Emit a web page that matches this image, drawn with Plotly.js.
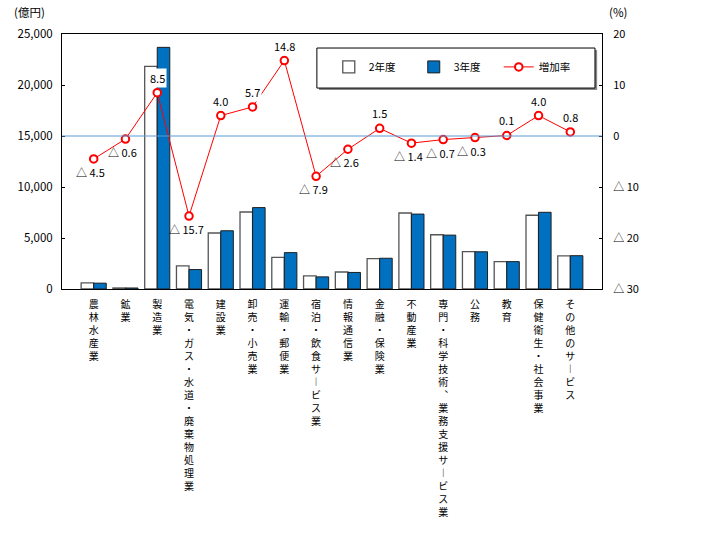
<!DOCTYPE html>
<html>
<head>
<meta charset="utf-8">
<script src="https://cdn.plot.ly/plotly-3.0.1.min.js"></script>
<style>body{margin:0;background:#fff}#chart{width:708px;height:535px}</style>
</head>
<body>
<div id="chart"></div>
<script>
var categories = ["農林水産業","鉱業","製造業","電気・ガス・水道・廃棄物処理業","建設業","卸売・小売業","運輸・郵便業","宿泊・飲食サービス業","情報通信業","金融・保険業","不動産業","専門・科学技術、業務支援サービス業","公務","教育","保健衛生・社会事業","その他のサービス"];
var fy2 = [600, 100, 21830, 2260, 5490, 7550, 3105, 1290, 1667, 2970, 7450, 5320, 3660, 2680, 7230, 3240];
var fy3 = [573, 99, 23690, 1905, 5710, 7980, 3565, 1188, 1624, 3015, 7345, 5283, 3649, 2683, 7519, 3266];
var rate = [-4.5, -0.6, 8.5, -15.7, 4.0, 5.7, 14.8, -7.9, -2.6, 1.5, -1.4, -0.7, -0.3, 0.1, 4.0, 0.8];
var y2TickVals = [-30, -20, -10, 0, 10, 20];
var y2TickText = ["△ 30", "△ 20", "△ 10", "0", "10", "20"];

var JP = '"Noto Sans CJK JP", sans-serif';

function vertical(s) {
  return s.split('').map(function (c) {
    if (c === 'ー') return '︱';
    if (c === '、') return '︑';
    return c;
  }).join('<br>');
}
function fmtRate(v) {
  return v < 0 ? '△ ' + Math.abs(v).toFixed(1) : v.toFixed(1);
}

var traces = [
  {type: 'bar', name: '2年度', x: categories, y: fy2, yaxis: 'y',
   marker: {color: '#ffffff', line: {color: '#555555', width: 1.3}}},
  {type: 'bar', name: '3年度', x: categories, y: fy3, yaxis: 'y',
   marker: {color: '#0070C0', line: {color: '#1f1f1f', width: 1}}},
  {type: 'scatter', mode: 'lines+markers', name: '増加率', x: categories, y: rate, yaxis: 'y2',
   line: {color: '#FF0000', width: 1},
   marker: {symbol: 'circle', size: 7.5, color: '#ffffff', line: {color: '#FF0000', width: 2}}}
];

var annotations = rate.map(function (v, i) {
  var neg = v < 0;
  return {x: categories[i], y: v, xref: 'x', yref: 'y2', text: fmtRate(v), showarrow: false,
          xshift: neg ? -3 : 0, yshift: neg ? -13 : 15, bgcolor: neg ? 'rgba(0,0,0,0)' : '#ffffff',
          font: {family: JP, size: 11, color: '#000'}};
});
annotations.push({xref: 'paper', yref: 'paper', x: -0.060, y: 1.086, xanchor: 'center', yanchor: 'middle',
  text: '(億円)', showarrow: false, font: {family: JP, size: 11.5, color: '#000'}});
annotations.push({xref: 'paper', yref: 'paper', x: 1.03, y: 1.086, xanchor: 'center', yanchor: 'middle',
  text: '(%)', showarrow: false, font: {family: JP, size: 11.5, color: '#000'}});

var layout = {
  width: 708, height: 535,
  margin: {l: 62, r: 106, t: 34, b: 246, pad: 0},
  paper_bgcolor: '#ffffff', plot_bgcolor: '#ffffff',
  barmode: 'group', bargap: 0.21, bargroupgap: 0,
  font: {family: JP, size: 11, color: '#000'},
  xaxis: {type: 'category', tickmode: 'array', tickvals: categories, ticktext: categories.map(vertical),
          showline: true, linecolor: '#000', linewidth: 1, mirror: true, ticks: '', showgrid: false,
          tickangle: 0, ticklabelstandoff: 6, tickfont: {family: JP, size: 10, color: '#000'}, automargin: false},
  yaxis: {range: [0, 25000], dtick: 5000, tickformat: ',d', showgrid: false, zeroline: false,
          showline: true, linecolor: '#000', linewidth: 1, ticks: 'inside', ticklen: 3, tickcolor: '#000',
          ticklabelstandoff: 6, tickfont: {family: JP, size: 11.5, color: '#000'}, automargin: false},
  yaxis2: {overlaying: 'y', side: 'right', range: [-30, 20], tickmode: 'array', tickvals: y2TickVals,
           ticktext: y2TickText, showgrid: false, zeroline: false, showline: true, linecolor: '#000',
           linewidth: 1, ticks: 'inside', ticklen: 3, tickcolor: '#000', ticklabelstandoff: 8,
           tickfont: {family: JP, size: 11, color: '#000'}, automargin: false},
  showlegend: true,
  legend: {orientation: 'h', x: 0.494, y: 0.871, xanchor: 'left', yanchor: 'middle',
           bgcolor: 'rgba(0,0,0,0)', borderwidth: 0, entrywidth: 40, itemwidth: 30,
           font: {family: JP, size: 10.5, color: '#000'}, traceorder: 'normal'},
  shapes: [
    {type: 'rect', xref: 'paper', yref: 'paper', x0: 0.476, x1: 0.991, y0: 0.780, y1: 0.937,
     line: {width: 0}, fillcolor: '#888888', layer: 'below'},
    {type: 'rect', xref: 'paper', yref: 'paper', x0: 0.472, x1: 0.987, y0: 0.788, y1: 0.945,
     line: {color: '#000', width: 1}, fillcolor: '#ffffff', layer: 'below'},
    {type: 'line', xref: 'paper', yref: 'y2', x0: 0, x1: 1, y0: 0, y1: 0,
     line: {color: '#5B9BD5', width: 1}, layer: 'above'}
  ],
  annotations: annotations
};

Plotly.newPlot('chart', traces, layout, {displayModeBar: false, staticPlot: true});
</script>
</body>
</html>
